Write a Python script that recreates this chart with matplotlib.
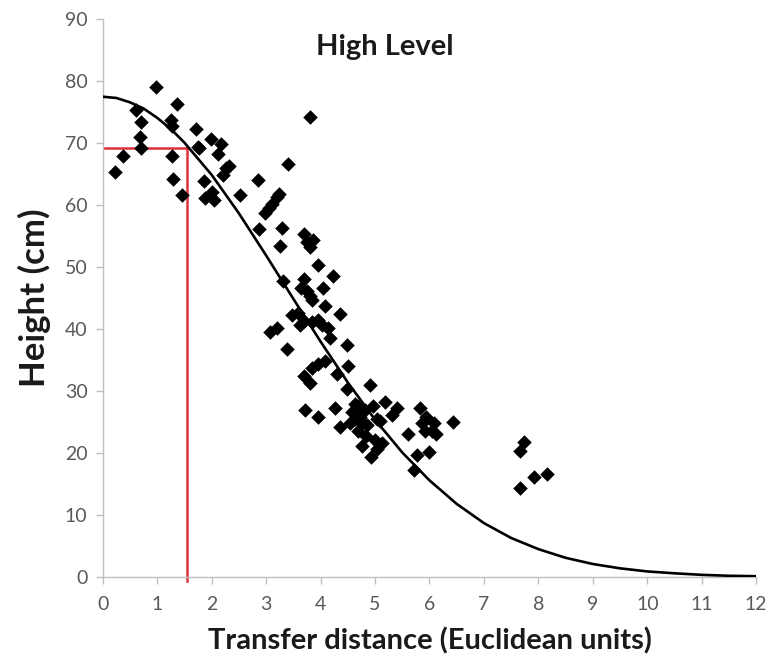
import matplotlib
matplotlib.use("Agg")
import matplotlib.pyplot as plt

# observed points (transfer distance, height)
dist = [0.22, 0.37, 0.62, 0.71, 0.69, 0.71, 0.97, 1.25, 1.28, 1.37, 1.28, 1.30, 1.46,
        1.71, 1.75, 1.77, 1.86, 1.88, 1.99, 2.01, 2.05, 2.17, 2.12, 2.21, 2.27, 2.32,
        2.52, 2.85, 2.87, 2.98, 3.05, 3.10, 3.20, 3.23, 3.29, 3.26, 3.40, 3.31, 3.08,
        3.20, 3.38, 3.47, 3.58, 3.65, 3.69, 3.76, 3.80, 3.87, 3.81, 3.69, 3.75, 3.81,
        3.85, 3.95, 3.62, 3.69, 3.84, 3.95, 4.02, 4.08, 4.22, 4.05, 4.13, 4.17, 4.36,
        3.69, 3.81, 3.84, 3.95, 4.09, 3.72, 3.95, 4.31, 4.49, 4.51, 4.26, 4.36, 4.49,
        4.54, 4.58, 4.63, 4.68, 4.72, 4.77, 4.81, 4.86, 4.90, 4.93, 4.97, 5.00, 5.04,
        5.09, 5.13, 5.18, 5.31, 5.41, 5.61, 5.72, 5.77, 5.82, 5.86, 5.91, 5.94, 6.00,
        6.05, 6.09, 6.12, 6.43, 4.63, 4.77, 4.84, 5.04, 4.68, 7.67, 7.74, 7.67, 7.92,
        8.16]
height = [65.4, 67.9, 75.4, 73.5, 71.0, 69.2, 79.0, 73.8, 72.8, 76.3, 67.9, 64.2, 61.6,
          72.3, 69.4, 69.2, 63.9, 61.1, 70.6, 62.1, 60.9, 69.9, 68.2, 64.9, 66.0, 66.3,
          61.7, 64.0, 56.1, 58.7, 59.5, 60.2, 61.3, 61.8, 56.3, 53.4, 66.6, 47.8, 39.6,
          40.2, 36.8, 42.3, 42.6, 46.7, 55.3, 54.1, 53.3, 54.4, 74.3, 48.1, 46.1, 45.4,
          44.7, 50.3, 40.7, 41.3, 41.1, 41.4, 40.6, 43.7, 48.5, 46.7, 40.2, 38.5, 42.5,
          32.4, 31.3, 33.7, 34.4, 34.8, 27.0, 25.9, 32.7, 37.5, 34.1, 27.2, 24.2, 30.3,
          24.8, 26.6, 27.9, 23.5, 25.9, 21.1, 26.9, 24.5, 31.0, 19.4, 27.6, 22.1, 20.7,
          25.2, 21.6, 28.3, 26.2, 27.2, 23.1, 17.3, 19.7, 27.2, 24.8, 23.5, 25.9, 20.1,
          23.5, 24.8, 23.1, 25.0, 25.5, 24.8, 22.8, 25.5, 27.6, 20.4, 21.8, 14.4, 16.1,
          16.6]

# fitted curve
curve_x = [0, 0.25, 0.5, 0.75, 1, 1.25, 1.5, 2, 2.5, 3, 3.5, 4, 4.5, 5, 5.5, 6, 6.5,
           7, 7.5, 8, 8.5, 9, 9.5, 10, 10.5, 11, 11.5, 12]
curve_y = [77.5, 77.3, 76.6, 75.6, 74.1, 72.3, 70.1, 64.9, 58.7, 51.9, 44.9, 38.0,
           31.4, 25.4, 20.1, 15.6, 11.8, 8.7, 6.3, 4.5, 3.1, 2.1, 1.4, 0.9, 0.6, 0.35,
           0.2, 0.13]

# red guide lines
ref_x = 1.55
ref_y = 69.3

plt.rcParams["font.family"] = ["Lato", "DejaVu Sans"]

fig = plt.figure(figsize=(7.78, 6.64), dpi=100)
ax = fig.add_axes([0.132, 0.131, 0.840, 0.840])

ax.scatter(dist, height, marker="D", s=55, color="black", linewidths=0, zorder=3)
ax.plot(curve_x, curve_y, color="black", linewidth=1.9, zorder=4)
ax.plot([0, ref_x], [ref_y, ref_y], color="#e0303c", linewidth=1.8, zorder=2)
ax.plot([ref_x, ref_x], [ref_y, -0.6], color="#e0303c", linewidth=1.8, zorder=2,
        clip_on=False)

ax.set_xlim(0, 12)
ax.set_ylim(0, 90)
ax.set_xticks(range(0, 13))
ax.set_yticks(range(0, 91, 10))

for side in ("top", "right"):
    ax.spines[side].set_visible(False)
for side in ("left", "bottom"):
    ax.spines[side].set_color("#bfbfbf")
    ax.spines[side].set_linewidth(1.0)

ax.tick_params(axis="both", colors="#bfbfbf", length=5, width=1.0, labelsize=14,
               labelcolor="#595959")
ax.tick_params(axis="x", pad=9)
ax.tick_params(axis="y", pad=6)

ax.text(5.18, 85.5, "High Level", ha="center", va="center", fontsize=21,
        fontweight="bold", color="#1a1a1a")
ax.set_xlabel("Transfer distance (Euclidean units)", fontsize=21, fontweight="bold",
              color="#1a1a1a", labelpad=10)
ax.set_ylabel("Height (cm)", fontsize=25, fontweight="bold", color="#1a1a1a",
              labelpad=10)

fig.savefig("out.png", dpi=100)
